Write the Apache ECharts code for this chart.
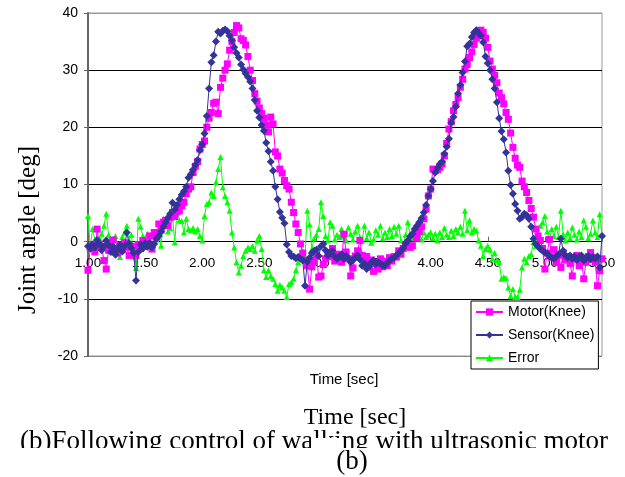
<!DOCTYPE html>
<html>
<head>
<meta charset="utf-8">
<script src="https://cdn.jsdelivr.net/npm/echarts@6/dist/echarts.min.js"></script>
<style>
html,body{margin:0;padding:0;background:#fff;}
#chart{width:625px;height:477px;}
</style>
</head>
<body>
<div id="chart"></div>
<script>
// Sampling grid of the recording (sec)
const tStart = 1.00;
const tStep = 0.02;
const xTicks = ['1.00','1.50','2.00','2.50','3.00','3.50','4.00','4.50','5.00','5.50'];
const yTicks = [-20,-10,0,10,20,30,40];
const seriesNames = ['Motor(Knee)','Sensor(Knee)','Error'];

// Motor (Knee) joint angle [deg]
const motorKnee = [
 -5.0,-1.2,-0.6,-1.8,2.2,-0.5,-1.0,-3.3,-4.8,-1.5,
 -0.4,0.3,-1.2,-2.0,-0.6,-1.4,-0.2,-1.0,-2.4,-0.8,
 -1.6,-2.4,-0.5,-1.2,0.2,-0.8,-0.2,1.0,-1.3,1.6,
 0.8,3.1,2.0,3.4,3.7,2.8,4.2,5.1,4.4,5.2,
 5.4,6.3,6.9,8.4,9.2,9.6,12.1,13.2,14.0,16.2,
 17.0,17.6,20.0,21.6,22.6,24.2,24.4,22.4,27.0,28.6,
 30.0,31.1,33.5,35.0,36.6,37.8,37.4,35.5,35.2,34.4,
 32.4,30.0,28.2,25.9,24.6,23.4,22.4,21.6,20.4,19.2,
 21.8,20.6,15.7,15.0,12.7,12.0,10.7,9.8,9.2,6.9,
 5.1,3.1,1.6,-0.4,-2.0,-3.3,-4.2,-8.3,-4.4,-3.3,
 -2.4,-6.2,-6.0,-4.0,-3.0,-1.9,-2.6,-1.2,-3.4,-2.2,
 -2.8,-3.6,1.3,-1.8,-3.0,-6.0,-4.6,-2.5,-1.6,0.2,
 -2.4,-3.8,-2.6,-4.4,-3.2,-5.2,-3.6,-4.8,-3.0,-4.4,
 -3.4,-4.2,-2.8,-3.4,-2.6,-2.7,-1.6,-2.2,-1.2,-0.7,
 -0.8,-1.0,-0.7,1.3,0.6,1.8,2.6,4.0,5.7,8.0,
 9.2,12.7,12.4,12.6,13.0,13.6,15.0,17.2,19.7,21.0,
 22.9,24.0,25.2,27.0,28.4,30.2,31.0,32.2,33.2,34.5,
 35.6,36.4,37.0,36.6,35.6,34.0,31.6,30.2,29.1,27.8,
 26.0,25.2,24.1,22.6,21.4,19.0,16.5,14.6,13.4,13.0,
 10.6,9.6,8.6,7.2,5.8,4.3,2.2,1.0,0.2,-1.2,
 -4.8,-2.0,0.4,-2.7,-1.4,-3.6,-2.4,-4.5,-2.0,-3.2,
 -2.6,-3.8,-6.0,-3.0,-2.4,-4.2,-3.0,-6.5,-3.6,-2.6,
 -1.9,-2.8,-3.6,-7.7,-5.1,-3.0
];

// Sensor (Knee) joint angle [deg]
const sensorKnee = [
 -0.8,-1.2,-0.5,-1.0,0.3,-0.4,-1.5,-0.8,0.2,-0.6,
 -1.8,-0.9,-2.3,-1.4,-0.6,-1.7,-0.8,1.6,-0.3,-1.1,
 -2.0,-6.8,-1.8,-0.5,-1.2,-0.3,-0.9,-0.2,-1.0,-0.4,
 0.5,1.0,1.8,2.6,3.4,4.2,4.9,6.8,5.6,6.4,
 7.4,8.2,8.8,9.6,11.2,11.8,12.6,13.4,14.3,16.0,
 17.0,18.9,22.0,26.8,31.4,32.6,35.0,36.7,36.4,36.9,
 37.1,36.8,36.0,35.2,34.0,33.0,32.2,31.0,30.1,29.4,
 28.8,28.0,26.8,24.8,22.9,21.7,20.4,19.4,17.3,15.8,
 14.0,12.4,9.6,7.4,5.2,4.2,3.2,-0.5,-1.8,-2.5,
 -2.6,-2.9,-2.7,-3.0,-3.2,-7.7,-3.5,-2.8,-2.0,-1.6,
 -1.4,-2.5,-0.8,-0.4,-1.5,-2.4,-2.0,-1.6,-2.6,-3.0,
 -2.6,-2.2,-3.0,-2.5,-2.9,-3.6,-3.2,-2.8,-2.4,-3.1,
 -4.2,-3.8,-4.8,-4.4,-3.6,-3.3,-3.9,-3.6,-3.8,-4.2,
 -4.2,-3.7,-3.3,-3.0,-2.8,-2.4,-2.0,-1.6,-1.1,-0.3,
 0.2,0.9,1.4,2.2,2.8,3.4,4.1,5.1,6.4,8.0,
 9.2,10.6,12.1,12.9,13.6,14.0,15.4,16.6,18.0,20.8,
 21.8,23.6,25.9,27.4,29.6,31.5,34.2,34.6,35.8,36.6,
 37.0,36.5,36.0,34.9,32.4,31.2,30.0,28.4,26.8,24.4,
 21.6,19.3,17.9,15.6,12.4,9.9,8.4,6.6,5.4,4.0,
 4.3,4.9,4.6,4.0,2.6,0.5,-0.4,-0.8,-1.3,-1.6,
 -1.9,-2.1,-2.5,-2.8,-3.0,-2.6,-2.2,0.5,-1.6,-2.4,
 -2.8,-2.4,-3.0,-2.6,-3.2,-2.7,-2.4,-3.3,-2.9,-2.5,
 -3.1,-2.7,-3.0,-2.6,-4.5,1.0
];

// Error [deg]
const errorKnee = [
 4.5,-1.0,2.2,0.4,-0.8,0.6,1.4,2.8,4.9,1.2,
 -0.7,0.5,1.0,-0.4,-2.7,0.8,1.6,2.8,0.2,1.2,
 -2.6,-4.6,4.0,2.6,1.0,0.5,1.4,0.2,1.0,1.6,
 0.4,1.8,-0.7,4.0,3.4,1.8,2.4,4.3,-0.1,5.7,
 3.7,3.6,1.6,4.0,2.2,2.0,2.4,1.8,2.2,1.0,
 0.2,4.5,6.6,6.9,8.6,8.0,10.4,12.7,14.8,9.5,
 8.0,6.9,5.4,1.6,-1.0,-3.6,-5.4,-4.2,-2.5,-1.6,
 -1.0,-1.3,-0.8,-1.6,0.2,1.0,-1.3,-5.0,-6.2,-5.0,
 -6.0,-6.5,-7.4,-8.6,-7.6,-8.0,-8.6,-9.7,-7.4,-7.1,
 -6.5,-5.0,-3.6,-2.1,-1.6,-2.6,5.4,3.0,-1.3,0.6,
 1.2,2.2,6.9,4.5,1.0,0.2,3.4,2.8,0.4,1.2,
 0.8,2.2,1.0,0.2,2.5,1.4,0.4,1.8,2.8,0.8,
 0.2,2.8,0.6,1.6,-0.2,0.4,2.0,1.2,2.8,0.6,
 1.6,0.8,2.2,1.0,2.6,1.4,2.8,0.2,-0.7,1.2,
 3.4,1.2,0.6,1.8,1.0,1.6,0.4,1.6,0.8,1.2,
 1.6,0.6,1.4,0.2,1.6,0.8,2.4,1.2,0.8,1.9,
 1.0,2.2,1.6,2.6,1.4,5.4,2.0,3.7,1.6,2.2,
 1.9,0.2,-0.7,-2.5,-1.3,-0.7,-1.4,-3.0,-2.0,-3.2,
 -3.6,-6.5,-6.2,-6.4,-8.0,-9.5,-8.3,-9.7,-9.7,-8.4,
 -4.5,-3.0,-3.6,-2.5,-2.2,-0.1,-0.8,1.2,2.8,3.4,
 4.5,1.8,0.4,2.2,1.0,2.6,0.8,5.4,1.3,0.2,
 1.6,0.6,2.5,1.2,0.4,1.8,0.8,3.7,2.6,0.6,
 1.4,3.7,1.6,0.8,4.8,1.2
];

function pairs(vals){
  return vals.map((v,i)=>[+(tStart + i*tStep).toFixed(2), v]);
}

const chart = echarts.init(document.getElementById('chart'), null, {renderer:'canvas'});
const sans = 'Liberation Sans, Arial, sans-serif';
const serif = 'Liberation Serif, Times New Roman, serif';

const gridTop = 13, gridBottom = 121, chartH = 477;
const yMin = yTicks[0], yMax = yTicks[yTicks.length-1];
// distance from bottom of plot to the y=0 level, so the time axis sits on zero
const zeroOffset = (chartH - gridTop - gridBottom) * (0 - yMin) / (yMax - yMin);

chart.setOption({
  animation:false,
  backgroundColor:'#fff',
  grid:{left:88, right:23, top:gridTop, bottom:gridBottom, show:true, borderColor:'#999', borderWidth:1, backgroundColor:'transparent'},
  legend:{
    data:seriesNames,
    orient:'vertical',
    left:471, top:301,
    itemWidth:27, itemHeight:9, itemGap:9,
    padding:[4,4,4,4],
    backgroundColor:'#fff',
    borderColor:'#000', borderWidth:1,
    textStyle:{fontFamily:sans, fontSize:14, color:'#000'}
  },
  xAxis:{
    type:'value', min:1, max:5.5, interval:0.5,
    offset:-zeroOffset,
    axisLine:{onZero:false, lineStyle:{color:'#000', width:1}},
    axisTick:{inside:true, length:5, lineStyle:{color:'#666'}},
    splitLine:{show:false},
    axisLabel:{margin:15, fontFamily:sans, fontSize:13.5, color:'#000',
      formatter:(v)=>{const s=v.toFixed(2); return xTicks.includes(s)?s:'';}}
  },
  yAxis:{
    type:'value', min:yMin, max:yMax, interval:10,
    axisLine:{show:true, onZero:false, lineStyle:{color:'#666', width:2}},
    axisTick:{show:true, length:4, lineStyle:{color:'#666'}},
    splitLine:{show:true, lineStyle:{color:['#888','#000','#000','#000','#000','#000','#999'], width:1.2}},
    axisLabel:{margin:10, fontFamily:sans, fontSize:14, color:'#000'}
  },
  series:[
    {name:seriesNames[2], type:'line', data:pairs(errorKnee), symbol:'triangle', symbolSize:6, showAllSymbol:true,
      itemStyle:{color:'#00FF00'}, lineStyle:{color:'#00FF00', width:1}, z:2},
    {name:seriesNames[0], type:'line', data:pairs(motorKnee), symbol:'rect', symbolSize:7, showAllSymbol:true,
      itemStyle:{color:'#FF00FF'}, lineStyle:{color:'#FF00FF', width:1}, z:3},
    {name:seriesNames[1], type:'line', data:pairs(sensorKnee), symbol:'diamond', symbolSize:8, showAllSymbol:true,
      itemStyle:{color:'#333399'}, lineStyle:{color:'#333399', width:1}, z:4}
  ],
  graphic:[
    {type:'text', x:28, y:230, rotation:Math.PI/2,
      style:{text:'Joint angle [deg]', font:'25px '+serif, fill:'#000', align:'center', verticalAlign:'middle'}},
    {type:'text', x:344, y:380,
      style:{text:'Time [sec]', font:'15px '+sans, fill:'#000', align:'center', verticalAlign:'middle'}},
    {type:'text', x:355, y:418,
      style:{text:'Time [sec]', font:'24px '+serif, fill:'#000', align:'center', verticalAlign:'middle'}},
    {type:'text', x:314, y:442,
      style:{text:'(b)Following control of walking with ultrasonic motor', font:'27px '+serif, fill:'#000', align:'center', verticalAlign:'middle'}},
    {type:'rect', shape:{x:0, y:448, width:625, height:29}, style:{fill:'#fff'}},
    {type:'rect', shape:{x:311, y:438, width:30, height:11}, style:{fill:'#fff'}},
    {type:'text', x:352, y:462,
      style:{text:'(b)', font:'27px '+serif, fill:'#000', align:'center', verticalAlign:'middle'}}
  ]
});
</script>
</body>
</html>
